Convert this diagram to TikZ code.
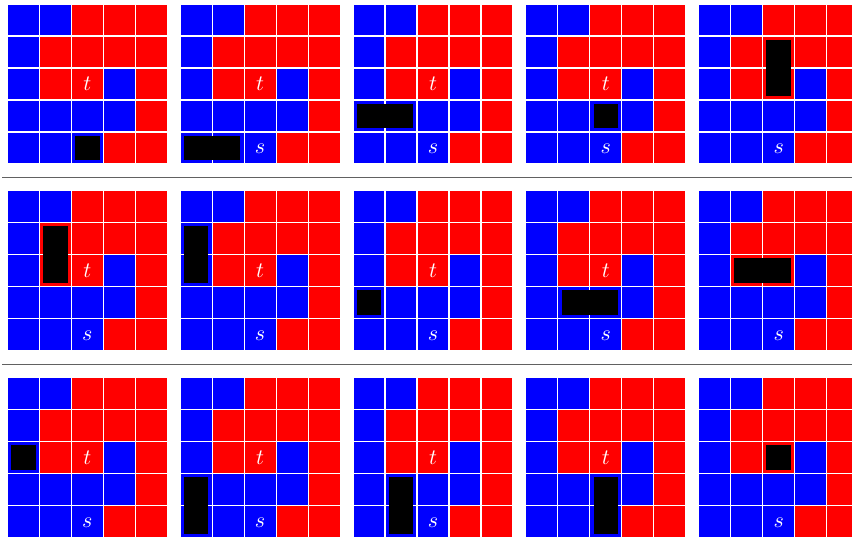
\documentclass[tikz,border=0pt]{standalone}
\newcommand\gridpanel[7]{% #1 x, #2 y, #3 id, #4 c, #5 r, #6 w, #7 h
  \begin{scope}[shift={(#1,#2)}]
    \foreach \r/\cols in {0/{B,B,R,R,R},1/{B,R,R,R,R},2/{B,R,R,B,R},3/{B,B,B,B,R},4/{B,B,B,R,R}}{
      \foreach \k [count=\c from 0] in \cols {
        \path[cell\k] (\c*32,\r*32) rectangle ++(32,32);
      }
    }
    \node[lbl] (t#3) at (80,80) {$t$};
    \node[lbl] (s#3) at (80,145) {$s$};
    \fill[piece] (#4*32+3.7,#5*32+3.7) rectangle ({(#4+#6)*32-3.7},{(#5+#7)*32-3.7});
  \end{scope}}
\begin{document}
\begin{tikzpicture}[x=1pt,y=-1pt,
  cellB/.style={fill=blue,draw=white,line width=1.2pt},
  cellR/.style={fill=red,draw=white,line width=1.2pt},
  piece/.style={black},
  lbl/.style={text=white,inner sep=0pt,scale=2.2},
  sepline/.style={draw=black!62,line width=1.3pt}]
\useasboundingbox (0,0) rectangle (852,538);
\clip (0,0) rectangle (852,538);
% row 1
\gridpanel{7.3}{4}{1}{2}{4}{1}{1}
\gridpanel{180.15}{4}{2}{0}{4}{2}{1}
\gridpanel{353}{4}{3}{0}{3}{2}{1}
\gridpanel{525.85}{4}{4}{2}{3}{1}{1}
\gridpanel{698.7}{4}{5}{2}{1}{1}{2}
% row 2
\gridpanel{7.3}{190.67}{6}{1}{1}{1}{2}
\gridpanel{180.15}{190.67}{7}{0}{1}{1}{2}
\gridpanel{353}{190.67}{8}{0}{3}{1}{1}
\gridpanel{525.85}{190.67}{9}{1}{3}{2}{1}
\gridpanel{698.7}{190.67}{10}{1}{2}{2}{1}
% row 3
\gridpanel{7.3}{377.33}{11}{0}{2}{1}{1}
\gridpanel{180.15}{377.33}{12}{0}{3}{1}{2}
\gridpanel{353}{377.33}{13}{1}{3}{1}{2}
\gridpanel{525.85}{377.33}{14}{2}{3}{1}{2}
\gridpanel{698.7}{377.33}{15}{2}{2}{1}{1}
% separators
\coordinate (sepA1) at (2,177.5);
\coordinate (sepA2) at (852,177.5);
\coordinate (sepB1) at (2,364.3);
\coordinate (sepB2) at (852,364.3);
\draw[sepline] (sepA1) -- (sepA2);
\draw[sepline] (sepB1) -- (sepB2);
\end{tikzpicture}
\end{document}
